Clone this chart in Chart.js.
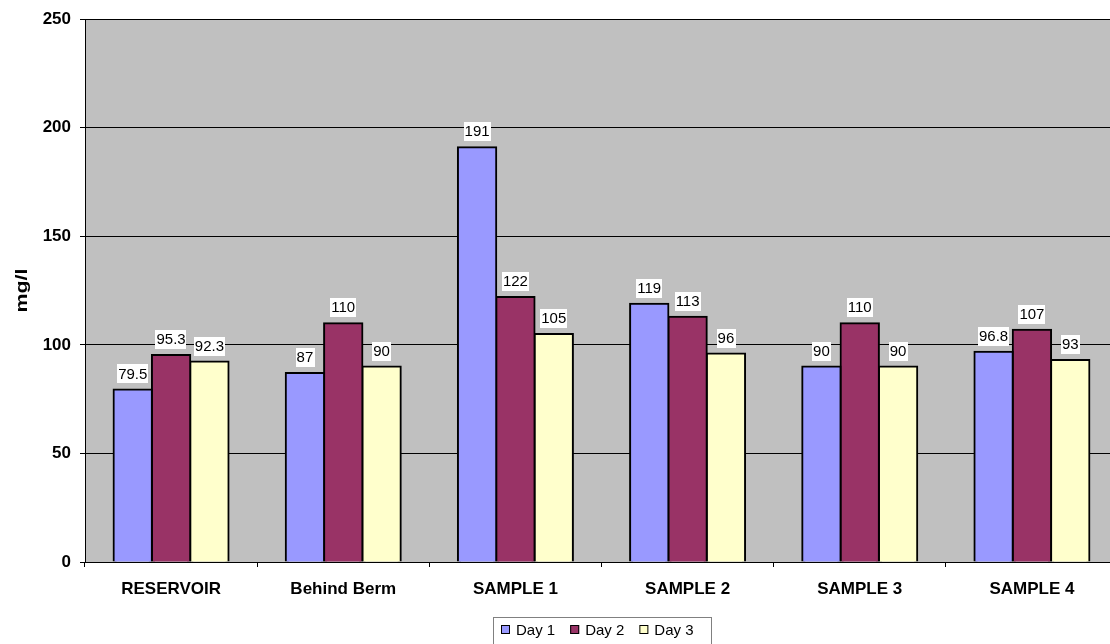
<!DOCTYPE html>
<html>
<head>
<meta charset="utf-8">
<script src="https://cdn.jsdelivr.net/npm/chart.js@4.4.0/dist/chart.umd.min.js"></script>
<style>
html,body{margin:0;padding:0;background:#fff;overflow:hidden;}
#wrap{width:1120px;height:644px;}
</style>
</head>
<body>
<div id="wrap"><canvas id="c" width="1120" height="644"></canvas></div>
<script>
const categories = ["RESERVOIR", "Behind Berm", "SAMPLE 1", "SAMPLE 2", "SAMPLE 3", "SAMPLE 4"];
const seriesNames = ["Day 1", "Day 2", "Day 3"];
const day1 = [79.5, 87, 191, 119, 90, 96.8];
const day2 = [95.3, 110, 122, 113, 110, 107];
const day3 = [92.3, 90, 105, 96, 90, 93];
const yTicks = [0, 50, 100, 150, 200, 250];
const yTitle = "mg/l";

const FONT = '"Liberation Sans", Arial, sans-serif';
const colors = ["#9999FF", "#993366", "#FFFFCC"];

const bgPlugin = {
  id: 'plotBg',
  beforeDraw(chart) {
    const {ctx, chartArea: a} = chart;
    ctx.save();
    ctx.fillStyle = '#C0C0C0';
    ctx.fillRect(a.left, a.top, a.right - a.left, a.bottom - a.top);
    ctx.restore();
  }
};

const titlePlugin = {
  id: 'yTitle',
  afterDraw(chart) {
    const ctx = chart.ctx;
    const a = chart.chartArea;
    ctx.save();
    ctx.font = 'bold 17px ' + FONT;
    const w = ctx.measureText(yTitle).width;
    ctx.translate(22, (a.top + a.bottom) / 2);
    ctx.rotate(-Math.PI / 2);
    ctx.scale(44 / w, 1);
    ctx.textAlign = 'center';
    ctx.textBaseline = 'middle';
    ctx.fillStyle = '#000';
    ctx.fillText(yTitle, 0, 0);
    ctx.restore();
  }
};

const labelPlugin = {
  id: 'valLabels',
  afterDatasetsDraw(chart) {
    const ctx = chart.ctx;
    ctx.save();
    ctx.font = '15px ' + FONT;
    ctx.textAlign = 'center';
    ctx.textBaseline = 'middle';
    chart.data.datasets.forEach((ds, di) => {
      const meta = chart.getDatasetMeta(di);
      meta.data.forEach((bar, i) => {
        const txt = String(ds.data[i]);
        const w = ctx.measureText(txt).width;
        const cy = bar.y - 16;
        ctx.fillStyle = '#fff';
        ctx.fillRect(Math.round(bar.x - w / 2 - 1), Math.round(cy - 9), Math.round(w + 2), 19);
        ctx.fillStyle = '#000';
        ctx.fillText(txt, bar.x, cy + 1);
      });
    });
    ctx.restore();
  }
};

const legendPlugin = {
  id: 'boxLegend',
  afterDraw(chart) {
    const ctx = chart.ctx;
    const a = chart.chartArea;
    ctx.save();
    ctx.font = '15px ' + FONT;
    ctx.textBaseline = 'middle';
    ctx.textAlign = 'left';
    const sq = 9, gapT = 6, gapI = 15, padL = 8, padR = 2;
    const items = chart.data.datasets.map(ds => ({label: ds.label, color: ds.backgroundColor, w: ctx.measureText(ds.label).width}));
    let total = padL + padR;
    items.forEach(it => total += sq + gapT + it.w + gapI);
    const cx = (a.left + a.right) / 2;
    const left = Math.round(cx - total / 2);
    const top = 617;
    ctx.strokeStyle = '#808080';
    ctx.lineWidth = 1;
    ctx.strokeRect(left + 0.5, top + 0.5, Math.round(total), 40);
    let x = left + padL;
    const my = 629.5;
    items.forEach(it => {
      ctx.fillStyle = it.color;
      ctx.fillRect(x, my - 4.5, sq, sq);
      ctx.strokeStyle = '#000';
      ctx.strokeRect(x + 0.5, my - 4.5 + 0.5, sq - 1, sq - 1);
      ctx.fillStyle = '#000';
      ctx.fillText(it.label, x + sq + gapT, my + 1);
      x += sq + gapT + it.w + gapI;
    });
    ctx.restore();
  }
};

const seriesData = [day1, day2, day3];
new Chart(document.getElementById('c'), {
  type: 'bar',
  data: {
    labels: categories,
    datasets: seriesNames.map((n, i) => ({
      label: n,
      data: seriesData[i],
      backgroundColor: colors[i],
      borderColor: '#000',
      borderWidth: 2,
      inflateAmount: 1,
      borderSkipped: 'bottom',
      categoryPercentage: 0.668,
      barPercentage: 1
    }))
  },
  options: {
    responsive: false,
    animation: false,
    devicePixelRatio: 1,
    layout: {padding: {top: 18, right: 2, bottom: 32, left: 0}},
    plugins: {legend: {display: false}, tooltip: {enabled: false}},
    scales: {
      x: {
        offset: true,
        grid: {offset: true, drawOnChartArea: false, drawTicks: true, tickLength: 5, color: '#000'},
        border: {color: '#000', width: 1},
        ticks: {color: '#000', font: {family: FONT, size: 17, weight: 'bold'}, padding: 12, maxRotation: 0, autoSkip: false},
        afterFit(s) { s.height = 50; }
      },
      y: {
        min: 0, max: 250,
        afterBuildTicks(s) { s.ticks = yTicks.map(v => ({value: v})); },
        grid: {color: '#000', lineWidth: 1, tickLength: 5},
        border: {color: '#000', width: 1},
        ticks: {color: '#000', font: {family: FONT, size: 17, weight: 'bold'}, padding: 9},
        title: {display: false},
        afterFit(s) { s.width = 85; }
      }
    }
  },
  plugins: [bgPlugin, labelPlugin, legendPlugin, titlePlugin]
});
</script>
</body>
</html>
